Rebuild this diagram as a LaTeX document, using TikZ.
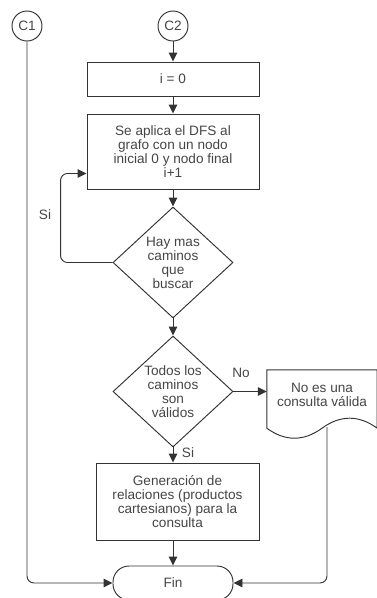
\documentclass[tikz,border=0pt]{standalone}
\usepackage{fontspec}
\setmainfont{Liberation Sans}
\usetikzlibrary{arrows.meta,shapes.geometric}
\definecolor{ink}{HTML}{333333}
\definecolor{txt}{HTML}{454545}
\begin{document}
\begin{tikzpicture}[x=1pt,y=-1pt,
  every node/.style={font=\fontsize{13.6}{14}\selectfont, text=txt},
  conn/.style={draw=ink, line width=0.95pt},
  flow/.style={conn, -{Triangle[length=9pt,width=8.5pt]}},
  roundturn/.style={rounded corners=7pt},
  proc/.style={draw=ink, line width=0.95pt, align=center, inner sep=0pt},
  dec/.style={diamond, draw=ink, line width=0.95pt, align=center, inner sep=0pt,
    aspect=1.08, minimum width=120pt, minimum height=111pt},
  conector/.style={circle, draw=ink, line width=0.95pt, minimum size=30pt, inner sep=0pt},
  term/.style={draw=ink, line width=0.95pt, rounded corners=16pt,
    minimum width=120pt, minimum height=34pt},
  lbl/.style={inner sep=0pt}]
\useasboundingbox (0,0) rectangle (377,598);

% connectors at the top
\node[conector] (c1) at (27,26) {C1};
\node[conector] (c2) at (173,26) {C2};

% main column
\node[proc, minimum width=172pt, minimum height=34pt] (i0) at (173,79) {i = 0};
\node[proc, minimum width=172pt, minimum height=75pt] (dfs) at (173,151.5)
  {Se aplica el DFS al\\grafo con un nodo\\inicial 0 y nodo final\\i+1};
\node[dec] (d1) at (173,262.5) {Hay mas\\caminos\\que\\buscar};
\node[dec] (d2) at (173,391.5) {Todos los\\caminos\\son\\válidos};
\node[proc, minimum width=163pt, minimum height=77pt] (gen) at (177.5,501.5)
  {Generación de\\relaciones (productos\\cartesianos) para la\\consulta};
\node[term] (fin) at (173,583) {Fin};

% document shape on the right
\node[align=center, inner sep=0pt, minimum width=110pt, minimum height=50pt] (doc) at (322,395)
  {No es una\\consulta válida};
\draw[conn] (doc.north west) -- (doc.north east) -- ([yshift=-8pt]doc.south east)
  .. controls +(-18.33,-13.33) and +(18.33,-13.33) .. ([yshift=-8pt]doc.south)
  .. controls +(-18.33,13.33) and +(18.33,13.33) .. ([yshift=-8pt]doc.south west) -- cycle;
\coordinate (docout) at ([xshift=5pt,yshift=-7pt]doc.south);

% flow lines
\draw[flow] (c2) -- (i0);
\draw[flow] (i0) -- (dfs);
\draw[flow] (dfs) -- (d1);
\draw[flow] (d1) -- (d2);
\draw[flow, roundturn] (d1.west) -- ++(-52,0) |- ([yshift=16pt]dfs.south west);
\draw[flow] (d2.east) -- (d2.east -| doc.west);
\draw[flow] (d2.south) -- (d2.south |- gen.north);
\draw[flow] (gen.south -| fin.north) -- (fin.north);
\draw[flow, roundturn] (c1.south) |- (fin.west);
\draw[flow, roundturn] (docout) |- (fin.east);

% branch labels
\node[lbl] (lsi1) at (45,215) {Si};
\node[lbl] (lno) at (241,373) {No};
\node[lbl] (lsi2) at (188,453) {Si};
\end{tikzpicture}
\end{document}
